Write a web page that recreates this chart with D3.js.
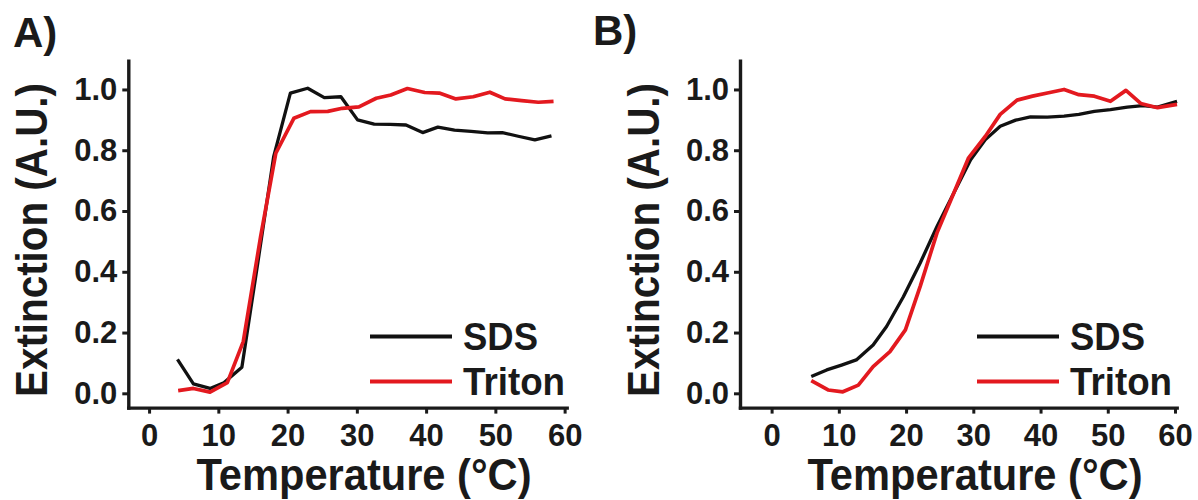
<!DOCTYPE html>
<html>
<head>
<meta charset="utf-8">
<script src="https://cdn.jsdelivr.net/npm/d3@7"></script>
<style>
  body { margin: 0; background: #fff; }
  svg { display: block; }
</style>
</head>
<body>
<div class="canvas"></div>
<script>
// ---- data ----
const xTicks = [0, 10, 20, 30, 40, 50, 60];
const yTicks = [0, 0.2, 0.4, 0.6, 0.8, 1.0];
const seriesNames = ["SDS", "Triton"];
const seriesColors = ["#111111", "#e3191f"];

// panel A
const tempA_SDS = [4.1, 6.4, 8.8, 10.8, 13.4, 15.7, 18.0, 20.4, 22.9, 25.3, 27.7, 30.1, 32.5, 34.8, 37.1, 39.5, 41.7, 44.1, 46.5, 48.9, 51.0, 53.3, 55.7, 58.1];
const extA_SDS  = [0.112, 0.031, 0.016, 0.035, 0.086, 0.43, 0.78, 0.988, 1.004, 0.973, 0.976, 0.90, 0.886, 0.885, 0.883, 0.858, 0.876, 0.866, 0.862, 0.857, 0.858, 0.846, 0.834, 0.847];
const tempA_Triton = [4.2, 6.4, 8.8, 11.3, 13.6, 16.1, 18.3, 20.9, 23.3, 25.8, 27.9, 30.3, 32.8, 34.9, 37.3, 39.8, 41.9, 44.3, 46.8, 49.2, 51.4, 53.8, 56.2, 58.4];
const extA_Triton  = [0.009, 0.016, 0.004, 0.035, 0.17, 0.515, 0.79, 0.905, 0.927, 0.928, 0.938, 0.943, 0.971, 0.982, 1.003, 0.99, 0.988, 0.969, 0.976, 0.991, 0.969, 0.963, 0.958, 0.961];

// panel B
const tempB_SDS = [5.9, 8.2, 10.4, 12.6, 15.1, 17.1, 19.6, 22.1, 24.6, 27.1, 29.6, 31.8, 34.0, 36.3, 38.5, 41.0, 43.5, 45.7, 48.0, 50.4, 52.9, 55.2, 57.4, 60.3];
const extB_SDS  = [0.055, 0.077, 0.093, 0.11, 0.159, 0.22, 0.318, 0.429, 0.549, 0.659, 0.769, 0.835, 0.879, 0.899, 0.91, 0.909, 0.912, 0.918, 0.928, 0.934, 0.942, 0.947, 0.942, 0.961];
const tempB_Triton = [5.9, 8.4, 10.6, 12.9, 15.1, 17.6, 19.9, 22.1, 24.6, 27.1, 29.3, 31.8, 34.0, 36.5, 38.8, 41.2, 43.5, 45.7, 48.0, 50.4, 52.7, 54.9, 57.4, 60.3];
const extB_Triton  = [0.042, 0.011, 0.005, 0.027, 0.088, 0.137, 0.209, 0.352, 0.528, 0.659, 0.775, 0.846, 0.918, 0.965, 0.978, 0.989, 1.0, 0.983, 0.978, 0.961, 0.997, 0.954, 0.94, 0.951];

const font = "'Liberation Sans', Arial, Helvetica, sans-serif";
const ink = "#1a1a1a";

const width = 1198, height = 500;
const svg = d3.select(".canvas").append("svg")
  .attr("width", width)
  .attr("height", height)
  .style("background", "#fff");

const panels = [
  {
    label: "A)", labelX: 13, labelY: 47,
    xDomain: [-3.0, 60.3], xRange: [128.3, 566.7],
    titleX: 364, yTitleX: 47,
    legendX: 370, legendTextX: 463,
    series: [[tempA_SDS, extA_SDS], [tempA_Triton, extA_Triton]]
  },
  {
    label: "B)", labelX: 593, labelY: 45,
    xDomain: [-4.7, 60.25], xRange: [740, 1176.7],
    titleX: 975, yTitleX: 659,
    legendX: 977, legendTextX: 1070,
    series: [[tempB_SDS, extB_SDS], [tempB_Triton, extB_Triton]]
  }
];

const y = d3.scaleLinear().domain([-0.047, 1.095]).range([407.6, 60.6]);

panels.forEach(p => {
  const x = d3.scaleLinear().domain(p.xDomain).range(p.xRange);
  const g = svg.append("g");

  // x axis
  const gx = g.append("g")
    .attr("transform", `translate(0,${y(-0.047)})`)
    .call(d3.axisBottom(x).tickValues(xTicks).tickSize(6).tickSizeOuter(0).tickPadding(10).tickFormat(d3.format("d")));
  // y axis
  const gy = g.append("g")
    .attr("transform", `translate(${x(p.xDomain[0])},0)`)
    .call(d3.axisLeft(y).tickValues(yTicks).tickSize(6).tickSizeOuter(0).tickPadding(5).tickFormat(d3.format(".1f")));

  [gx, gy].forEach(ax => {
    ax.select(".domain").attr("stroke", ink).attr("stroke-width", 3.4).attr("stroke-linecap", "square");
    ax.selectAll(".tick line").attr("stroke", ink).attr("stroke-width", 3);
    ax.selectAll(".tick text")
      .attr("fill", ink)
      .style("font-family", font)
      .style("font-weight", "bold")
      .style("font-size", "31px");
  });

  // series lines
  p.series.forEach((s, i) => {
    const pts = s[0].map((t, k) => [t, s[1][k]]);
    g.append("path")
      .datum(pts)
      .attr("fill", "none")
      .attr("stroke", seriesColors[i])
      .attr("stroke-width", i === 0 ? 3.3 : 3.7)
      .attr("stroke-linejoin", "round")
      .attr("d", d3.line().x(d => x(d[0])).y(d => y(d[1])));
  });

  // legend
  seriesNames.forEach((name, i) => {
    const ly = 336.5 + i * 45;
    g.append("line")
      .attr("x1", p.legendX).attr("x2", p.legendX + 82)
      .attr("y1", ly).attr("y2", ly)
      .attr("stroke", seriesColors[i])
      .attr("stroke-width", 4.2);
    g.append("text")
      .attr("x", p.legendTextX)
      .attr("y", ly + 13.5)
      .attr("fill", ink)
      .style("font-family", font)
      .style("font-weight", "bold")
      .style("font-size", "38px")
      .attr("textLength", i === 0 ? 75 : 102)
      .attr("lengthAdjust", "spacingAndGlyphs")
      .text(name);
  });

  // panel label
  g.append("text")
    .attr("x", p.labelX).attr("y", p.labelY)
    .attr("fill", ink)
    .style("font-family", font)
    .style("font-weight", "bold")
    .style("font-size", "42px")
    .text(p.label);

  // x title
  g.append("text")
    .attr("x", p.titleX).attr("y", 490)
    .attr("text-anchor", "middle")
    .attr("fill", ink)
    .style("font-family", font)
    .style("font-weight", "bold")
    .style("font-size", "44px")
    .attr("textLength", 335)
    .attr("lengthAdjust", "spacingAndGlyphs")
    .text("Temperature (°C)");

  // y title
  g.append("text")
    .attr("transform", `translate(${p.yTitleX},240) rotate(-90)`)
    .attr("text-anchor", "middle")
    .attr("fill", ink)
    .style("font-family", font)
    .style("font-weight", "bold")
    .style("font-size", "44px")
    .attr("textLength", 314)
    .attr("lengthAdjust", "spacingAndGlyphs")
    .text("Extinction (A.U.)");
});
</script>
</body>
</html>
